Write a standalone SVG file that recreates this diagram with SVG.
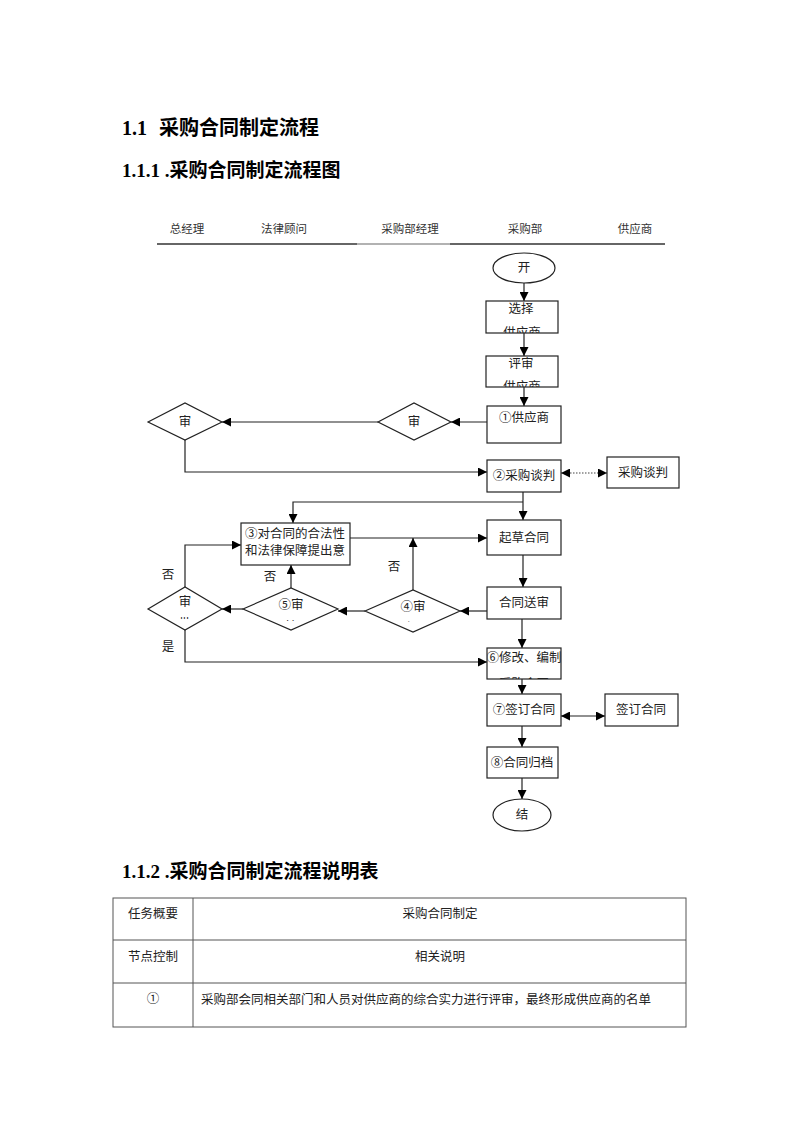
<svg xmlns="http://www.w3.org/2000/svg" width="800" height="1132" viewBox="0 0 800 1132">
<style>
.t{font-family:"Liberation Serif","Noto Sans CJK SC",serif;fill:#000}
.n{font-family:"Noto Sans CJK SC",sans-serif;font-size:12.5px;fill:#222}
.h{font-family:"Noto Sans CJK SC",sans-serif;font-size:11.5px;fill:#333}
.box{fill:#fff;stroke:#222;stroke-width:1.2}
.ln{fill:none;stroke:#222;stroke-width:1.2}
.tb{fill:none;stroke:#555;stroke-width:1}
</style>
<defs>
<marker id="a" viewBox="0 0 10 10" refX="10" refY="5" markerWidth="9" markerHeight="9" markerUnits="userSpaceOnUse" orient="auto-start-reverse"><path d="M0,0 L10,5 L0,10 z" fill="#000"/></marker>
<clipPath id="c1"><rect x="486" y="301" width="72" height="32"/></clipPath>
<clipPath id="c2"><rect x="486" y="356" width="72" height="31"/></clipPath>
<clipPath id="c3"><rect x="487" y="406" width="74" height="32"/></clipPath>
<clipPath id="c4"><rect x="241" y="523" width="109" height="42"/></clipPath>
<clipPath id="c6"><rect x="487" y="648" width="74" height="31"/></clipPath>
<clipPath id="d1"><rect x="150" y="592" width="70" height="27"/></clipPath>
<clipPath id="d5"><rect x="250" y="594" width="80" height="27"/></clipPath>
<clipPath id="d4"><rect x="370" y="596" width="85" height="26"/></clipPath>
</defs>
<rect width="800" height="1132" fill="#fff"/>

<text class="t" y="135" font-size="20" font-weight="bold"><tspan x="122">1.1</tspan><tspan x="159">采购合同制定流程</tspan></text>
<text class="t" x="122" y="177" font-size="19" font-weight="bold">1.1.1 .采购合同制定流程图</text>
<text class="t" x="122" y="878" font-size="19" font-weight="bold">1.1.2 .采购合同制定流程说明表</text>

<g id="header">
<line x1="157" y1="244" x2="357" y2="244" stroke="#333" stroke-width="1.4"/>
<line x1="357" y1="244" x2="450" y2="244" stroke="#999" stroke-width="1.4"/>
<line x1="450" y1="244" x2="665" y2="244" stroke="#333" stroke-width="1.4"/>
<text class="h" x="187" y="233" text-anchor="middle">总经理</text>
<text class="h" x="284" y="233" text-anchor="middle">法律顾问</text>
<text class="h" x="410" y="233" text-anchor="middle">采购部经理</text>
<text class="h" x="525" y="233" text-anchor="middle">采购部</text>
<text class="h" x="635" y="233" text-anchor="middle">供应商</text>
</g>

<g id="connectors">
<line class="ln" x1="524" y1="283" x2="524" y2="301" marker-end="url(#a)"/>
<line class="ln" x1="524" y1="333" x2="524" y2="356" marker-end="url(#a)"/>
<line class="ln" x1="524" y1="387" x2="524" y2="406" marker-end="url(#a)"/>
<line class="ln" x1="487" y1="422" x2="451" y2="422" marker-end="url(#a)"/>
<line class="ln" x1="378" y1="422" x2="222" y2="422" marker-end="url(#a)"/>
<polyline class="ln" points="185,440 185,472 487,472" marker-end="url(#a)"/>
<line x1="561" y1="473" x2="607" y2="473" stroke="#444" stroke-width="1.2" stroke-dasharray="1.5,1.5" marker-start="url(#a)" marker-end="url(#a)"/>
<line class="ln" x1="523" y1="492" x2="523" y2="520" marker-end="url(#a)"/>
<polyline class="ln" points="523,502 293,502 293,523" marker-end="url(#a)"/>
<line class="ln" x1="350" y1="538" x2="487" y2="538" marker-end="url(#a)"/>
<line class="ln" x1="523" y1="555" x2="523" y2="587" marker-end="url(#a)"/>
<line class="ln" x1="487" y1="611" x2="460" y2="611" marker-end="url(#a)"/>
<line class="ln" x1="413" y1="590" x2="413" y2="538" marker-end="url(#a)"/>
<line class="ln" x1="365" y1="611" x2="338" y2="611" marker-end="url(#a)"/>
<line class="ln" x1="291" y1="588" x2="291" y2="565" marker-end="url(#a)"/>
<line class="ln" x1="243" y1="609" x2="222" y2="609" marker-end="url(#a)"/>
<polyline class="ln" points="185,587 185,545 241,545" marker-end="url(#a)"/>
<polyline class="ln" points="185,630 185,662 487,662" marker-end="url(#a)"/>
<line class="ln" x1="522" y1="619" x2="522" y2="648" marker-end="url(#a)"/>
<line class="ln" x1="522" y1="679" x2="522" y2="694" marker-end="url(#a)"/>
<line class="ln" x1="561" y1="716" x2="605" y2="716" marker-start="url(#a)" marker-end="url(#a)"/>
<line class="ln" x1="522" y1="726" x2="522" y2="747" marker-end="url(#a)"/>
<line class="ln" x1="522" y1="778" x2="522" y2="799" marker-end="url(#a)"/>
<text class="n" x="168" y="579" text-anchor="middle">否</text>
<text class="n" x="270" y="581" text-anchor="middle">否</text>
<text class="n" x="394" y="571" text-anchor="middle">否</text>
<text class="n" x="168" y="651" text-anchor="middle">是</text>
</g>

<g id="start"><ellipse class="box" cx="524" cy="268" rx="31" ry="15"/><text class="n" x="524" y="272" text-anchor="middle">开</text></g>
<g id="select"><rect class="box" x="486" y="301" width="72" height="32"/><g clip-path="url(#c1)"><text class="n" x="521" y="313" text-anchor="middle">选择</text><text class="n" x="522" y="337" text-anchor="middle">供应商</text></g></g>
<g id="review"><rect class="box" x="486" y="356" width="72" height="31"/><g clip-path="url(#c2)"><text class="n" x="521" y="368" text-anchor="middle">评审</text><text class="n" x="522" y="391" text-anchor="middle">供应商</text></g></g>
<g id="n1"><rect class="box" x="487" y="406" width="74" height="37"/><g clip-path="url(#c3)"><text class="n" x="524" y="422" text-anchor="middle">①供应商</text><text class="n" x="524" y="449" text-anchor="middle">名单</text></g></g>
<g id="dA"><polygon class="box" points="378,422 414,403 451,422 414,440"/><text class="n" x="414" y="426" text-anchor="middle" font-size="11">审</text></g>
<g id="dB"><polygon class="box" points="148,422 185,403 222,422 185,440"/><text class="n" x="185" y="426" text-anchor="middle" font-size="11">审</text></g>
<g id="n2"><rect class="box" x="487" y="460" width="74" height="32"/><text class="n" x="524" y="480" text-anchor="middle">②采购谈判</text></g>
<g id="sup1"><rect class="box" x="607" y="457" width="72" height="31"/><text class="n" x="643" y="477" text-anchor="middle">采购谈判</text></g>
<g id="draft"><rect class="box" x="487" y="520" width="74" height="35"/><text class="n" x="524" y="542" text-anchor="middle">起草合同</text></g>
<g id="n3"><rect class="box" x="241" y="523" width="109" height="42"/><g clip-path="url(#c4)"><text class="n" x="245" y="538">③对合同的合法性</text><text class="n" x="245" y="555">和法律保障提出意</text><text class="n" x="291" y="577">见</text></g></g>
<g id="submit"><rect class="box" x="487" y="587" width="74" height="32"/><text class="n" x="524" y="607" text-anchor="middle">合同送审</text></g>
<g id="n4"><polygon class="box" points="365,611 413,590 460,611 413,632"/><g clip-path="url(#d4)"><text class="n" x="413" y="611" text-anchor="middle">④审</text><text class="n" x="413" y="632" text-anchor="middle">阅</text></g></g>
<g id="n5"><polygon class="box" points="243,609 291,588 338,609 291,630"/><g clip-path="url(#d5)"><text class="n" x="291" y="609" text-anchor="middle">⑤审</text><text class="n" x="291" y="631" text-anchor="middle">核</text></g></g>
<g id="dC"><polygon class="box" points="148,609 185,587 222,609 185,630"/><g clip-path="url(#d1)"><text class="n" x="185" y="606" text-anchor="middle" font-size="11">审</text><text class="n" x="185" y="628" text-anchor="middle" font-size="11">批</text></g></g>
<g id="n6"><rect class="box" x="487" y="648" width="74" height="31"/><g clip-path="url(#c6)"><text class="n" x="524" y="662" text-anchor="middle">⑥修改、编制</text><text class="n" x="524" y="688" text-anchor="middle">采购合同</text></g></g>
<g id="n7"><rect class="box" x="487" y="694" width="74" height="32"/><text class="n" x="524" y="714" text-anchor="middle">⑦签订合同</text></g>
<g id="sup2"><rect class="box" x="605" y="694" width="73" height="32"/><text class="n" x="641" y="714" text-anchor="middle">签订合同</text></g>
<g id="n8"><rect class="box" x="487" y="747" width="71" height="31"/><text class="n" x="522" y="767" text-anchor="middle">⑧合同归档</text></g>
<g id="end"><ellipse class="box" cx="522" cy="815" rx="29" ry="16"/><text class="n" x="522" y="819" text-anchor="middle">结</text></g>

<g id="table">
<rect class="tb" x="113" y="898" width="573" height="129"/>
<line class="tb" x1="113" y1="940" x2="686" y2="940"/>
<line class="tb" x1="113" y1="983" x2="686" y2="983"/>
<line class="tb" x1="193" y1="898" x2="193" y2="1027"/>
<text class="n" x="153" y="918" text-anchor="middle" font-size="11.5">任务概要</text>
<text class="n" x="440" y="918" text-anchor="middle" font-size="11.5">采购合同制定</text>
<text class="n" x="153" y="961" text-anchor="middle" font-size="11.5">节点控制</text>
<text class="n" x="440" y="961" text-anchor="middle" font-size="11.5">相关说明</text>
<text class="n" x="153" y="1003" text-anchor="middle" font-size="13">①</text>
<text class="n" x="201" y="1004" font-size="11.5">采购部会同相关部门和人员对供应商的综合实力进行评审，最终形成供应商的名单</text>
</g>
</svg>
